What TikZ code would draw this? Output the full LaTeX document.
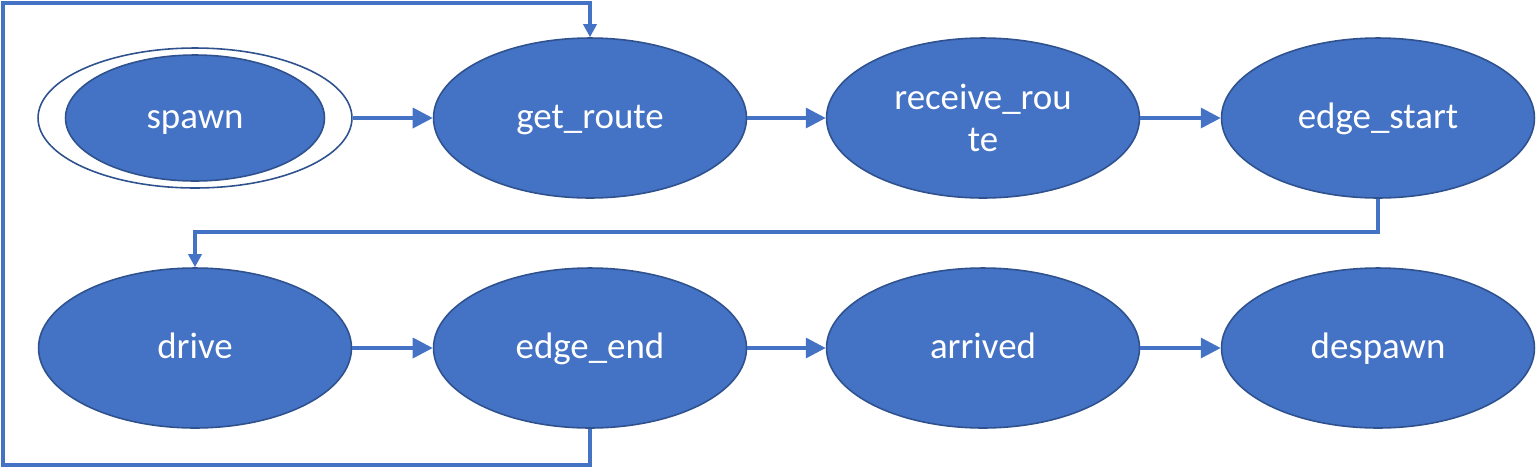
\documentclass[tikz,border=0pt]{standalone}
\usepackage{fontspec}
\setmainfont{Carlito}
\usetikzlibrary{shapes.geometric,arrows.meta}
\definecolor{fillblue}{HTML}{4472C4}
\definecolor{edgeblue}{HTML}{2F528F}
\tikzset{
  state/.style={ellipse, draw=edgeblue, line width=0.9pt, fill=fillblue, text=white,
    minimum width=6.26cm, minimum height=3.2cm, inner sep=0pt, align=center,
    font=\fontsize{21}{23.5}\selectfont},
  oneline/.style={text height=15.75pt, text depth=4pt},
  conn/.style={draw=fillblue, line width=2pt},
  bigtip/.style={conn, -{Triangle[length=0.4cm, width=0.4cm]}},
  smalltip/.style={conn, -{Triangle[length=0.26cm, width=0.26cm]}},
}
\begin{document}
\begin{tikzpicture}[x=0.02cm, y=-0.02cm]
\useasboundingbox (0,0) rectangle (1536,468);
% row 1
\node[ellipse, draw=edgeblue, line width=0.9pt, fill=white, minimum width=6.28cm, minimum height=2.8cm, inner sep=0pt] (spawnout) at (195,118) {};
\node[state, oneline, minimum width=5.18cm, minimum height=2.52cm] (spawn) at (195,118) {spawn};
\node[state, oneline] (getroute) at (590,118) {get\_route};
\node[state] (receive) at (983,118) {receive\_rou\\te};
\node[state, oneline] (edgestart) at (1378,118) {edge\_start};
% row 2
\node[state, oneline] (drive) at (195,348) {drive};
\node[state, oneline] (edgeend) at (590,348) {edge\_end};
\node[state, oneline] (arrived) at (983,348) {arrived};
\node[state, oneline] (despawn) at (1378,348) {despawn};
% connectors
\draw[bigtip] (spawnout.east) -- (getroute.west);
\draw[bigtip] (getroute.east) -- (receive.west);
\draw[bigtip] (receive.east) -- (edgestart.west);
\draw[bigtip] (drive.east) -- (edgeend.west);
\draw[bigtip] (edgeend.east) -- (arrived.west);
\draw[bigtip] (arrived.east) -- (despawn.west);
\draw[smalltip] (edgestart.south) -- (1378,232) -| (drive.north);
\draw[smalltip] (edgeend.south) -- (590,465) -- (3,465) -- (3,3) -| (getroute.north);
\end{tikzpicture}
\end{document}
